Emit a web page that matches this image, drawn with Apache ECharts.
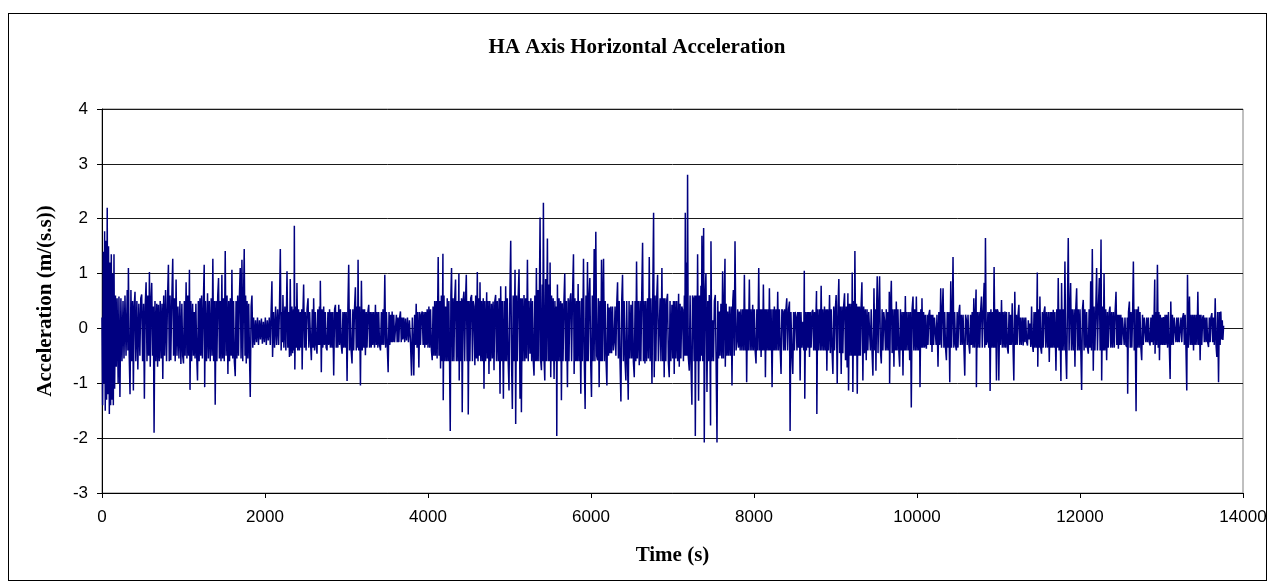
<!DOCTYPE html>
<html>

	<head>
		<meta charset="utf-8" />
		<script src="https://cdn.jsdelivr.net/npm/echarts@6/dist/echarts.min.js" type="text/javascript" charset="utf-8"></script>
		<style>
			html, body { margin: 0; padding: 0; background: #fff; }
			#frame { position: absolute; left: 8px; top: 13px; width: 1257px; height: 566px; border: 1px solid #000; }
			#chart { position: absolute; left: 0; top: 0; width: 1274px; height: 587px; }
		</style>
	</head>

	<body>
		<div id="frame"></div>
		<div id="chart"></div>
		<script>
			// [time (s), acceleration (m/(s.s))], split by time span
			var seg0to2300 = [
				[0,0.2],[8,-1.4],[16,1.4],[24,-1.0],[32,1.77],[40,-1.5],[48,1.6],[56,-1.3],[64,2.2],[72,-1.2],[80,1.5],[90,-1.56],[98,1.2],[106,-1.4],[114,1.35],[122,-1.3],[130,1.0],[139,-1.4],[147,1.35],[155,-1.1],
				[165,0.6],[175,-0.7],[185,0.55],[198,-1.0],[208,0.58],[220,-1.25],[232,0.55],[245,-0.6],[258,0.5],[270,-0.55],[282,0.6],[295,-0.5],[310,0.7],[318,-0.4],[324,1.1],[334,-0.5],[344,-1.2],[355,0.7],[366,-0.6],[376,0.5],
				[385,-1.13],[395,0.4],[405,0.67],[415,-0.6],[428,0.5],[440,-0.75],[452,0.45],[465,-0.5],[476,0.55],[487,0.62],[498,-0.6],[510,0.45],[520,-1.28],[530,0.4],[541,0.84],[552,-0.6],[562,0.6],[572,-0.5],[582,1.03],[592,-0.7],
				[601,0.5],[610,0.83],[620,-0.5],[630,0.4],[639,-1.9],[650,0.5],[661,-0.6],[672,0.45],[682,-0.7],[692,0.43],[703,-0.6],[714,0.5],[725,-0.55],[736,0.45],[746,-0.92],[757,0.6],[768,-0.5],[780,0.7],[792,-0.6],[804,0.55],
				[815,1.16],[825,-0.6],[835,0.6],[844,-0.58],[856,0.5],[868,1.27],[878,-0.5],[888,0.55],[898,-0.6],[909,0.89],[920,-0.5],[932,0.4],[944,-0.55],[956,0.5],[968,-0.65],[980,0.45],[990,-0.5],[1000,-0.64],[1010,0.5],[1020,-0.5],
				[1032,0.84],[1042,-0.55],[1052,0.6],[1062,-0.5],[1073,1.07],[1080,-1.12],[1090,0.5],[1100,-0.6],[1112,0.45],[1122,-0.5],[1132,0.3],[1142,-0.55],[1152,0.45],[1162,-0.5],[1172,-0.95],[1182,0.5],[1192,-0.6],[1202,0.55],[1212,-0.5],[1222,0.6],
				[1232,-0.55],[1244,0.5],[1254,1.16],[1260,-1.07],[1270,0.5],[1282,-0.6],[1295,0.64],[1305,-0.55],[1316,0.5],[1328,-0.6],[1340,0.55],[1350,-0.5],[1360,1.27],[1370,-0.6],[1380,0.5],[1389,-1.39],[1400,0.5],[1410,-0.6],[1420,0.6],[1430,0.92],
				[1440,-0.55],[1450,0.5],[1460,-0.6],[1471,0.98],[1480,-0.55],[1490,0.55],[1500,-0.6],[1512,1.41],[1522,-0.5],[1534,0.6],[1545,-0.83],[1555,0.5],[1565,-0.6],[1575,0.55],[1585,-0.5],[1594,1.07],[1604,-0.55],[1614,0.5],[1624,-0.6],[1635,-0.87],
				[1645,0.5],[1655,-0.55],[1665,0.6],[1675,-0.5],[1685,0.55],[1696,1.1],[1706,-0.55],[1717,1.25],[1727,-0.6],[1737,0.6],[1745,1.45],[1755,-0.5],[1762,0.6],[1770,-0.64],[1780,0.5],[1790,-0.55],[1800,0.45],[1810,-0.5],[1819,-1.25],[1830,0.4],
				[1840,0.6],[1850,-0.35],[1860,0.2],[1872,-0.3],[1884,0.15],[1896,-0.25],[1908,0.2],[1920,-0.3],[1932,0.15],[1944,-0.2],[1956,0.18],[1968,-0.28],[1980,0.12],[1992,-0.25],[2004,0.2],[2016,-0.3],[2028,0.15],[2040,-0.22],[2052,0.2],[2065,-0.3],
				[2075,0.3],[2085,0.86],[2093,-0.52],[2105,0.3],[2117,-0.35],[2130,0.4],[2142,-0.3],[2155,0.35],[2167,-0.3],[2178,0.4],[2188,1.45],[2198,-0.4],[2208,0.3],[2214,-0.25],[2220,0.61],[2232,-0.35],[2244,0.4],[2256,-0.4],[2270,1.04],[2280,-0.35],[2290,0.3]
			];
			var seg2300to4570 = [
				[2300,-0.52],[2310,0.9],[2320,-0.5],[2330,0.4],[2340,-0.45],[2350,0.35],[2356,-0.4],[2360,1.87],[2366,-0.75],[2376,0.4],[2384,-0.35],[2392,0.83],[2402,-0.4],[2412,0.35],[2422,-0.4],[2432,0.3],[2442,-0.35],[2450,0.35],[2456,-0.75],[2466,0.3],
				[2474,0.8],[2484,-0.35],[2494,0.3],[2504,-0.4],[2516,0.35],[2528,0.55],[2538,-0.35],[2548,0.3],[2560,-0.3],[2569,-0.58],[2580,0.35],[2590,-0.35],[2597,0.55],[2608,-0.4],[2618,0.3],[2628,-0.3],[2638,-0.46],[2648,0.35],[2658,-0.3],[2668,0.4],
				[2674,-0.3],[2679,0.87],[2691,-0.8],[2700,0.35],[2710,-0.35],[2720,0.4],[2730,-0.3],[2740,0.3],[2750,-0.35],[2761,-0.4],[2772,0.3],[2782,-0.3],[2792,0.35],[2802,-0.35],[2812,0.3],[2822,-0.35],[2832,0.3],[2843,-0.86],[2854,0.35],[2864,0.43],
				[2874,-0.35],[2884,0.3],[2894,-0.35],[2905,0.43],[2915,-0.3],[2925,0.35],[2935,-0.3],[2946,-0.46],[2956,0.3],[2966,-0.35],[2976,0.3],[2986,-0.35],[2996,0.3],[3007,-0.96],[3017,0.35],[3027,1.16],[3037,-0.4],[3047,0.35],[3057,-0.4],[3068,-0.64],
				[3078,0.35],[3088,-0.4],[3098,0.35],[3109,0.75],[3120,-0.4],[3130,0.4],[3136,-0.35],[3142,1.25],[3150,-0.4],[3160,0.4],[3171,-1.04],[3183,0.87],[3193,-0.4],[3203,0.35],[3213,-0.35],[3222,0.35],[3232,-0.49],[3242,0.3],[3252,-0.35],[3262,0.3],
				[3273,0.43],[3283,-0.35],[3293,0.3],[3303,-0.35],[3313,0.3],[3323,-0.3],[3333,0.3],[3344,-0.35],[3355,0.43],[3365,-0.3],[3375,0.3],[3385,-0.35],[3395,0.3],[3405,-0.3],[3417,-0.4],[3428,0.3],[3438,-0.3],[3448,0.35],[3458,-0.3],[3470,0.98],
				[3480,-0.35],[3490,0.3],[3500,-0.3],[3511,-0.8],[3522,0.3],[3532,-0.3],[3542,0.25],[3552,-0.25],[3560,0.31],[3570,-0.25],[3580,0.25],[3590,-0.25],[3601,-0.24],[3612,0.25],[3622,-0.25],[3632,0.2],[3642,-0.25],[3652,0.2],[3662,0.31],[3672,-0.25],
				[3682,0.2],[3692,-0.2],[3702,0.2],[3714,-0.25],[3724,0.18],[3736,-0.22],[3748,0.2],[3760,-0.25],[3772,0.15],[3784,-0.2],[3798,-0.86],[3808,0.2],[3818,-0.3],[3826,-0.86],[3836,0.25],[3846,-0.3],[3855,0.45],[3866,-0.35],[3876,0.3],[3888,-0.71],
				[3898,0.3],[3908,-0.3],[3918,0.25],[3929,0.31],[3940,-0.3],[3950,0.3],[3960,-0.35],[3970,0.3],[3980,-0.3],[3990,0.35],[4000,-0.35],[4011,0.4],[4021,-0.35],[4031,0.35],[4042,-0.4],[4052,-0.58],[4062,0.4],[4072,-0.5],[4082,0.5],[4092,-0.5],
				[4102,0.5],[4112,-0.55],[4125,1.3],[4135,-0.5],[4145,0.5],[4154,-0.73],[4164,0.6],[4174,-0.6],[4183,1.36],[4187,-1.31],[4196,0.6],[4206,-0.6],[4216,0.4],[4226,-0.6],[4236,0.55],[4246,-0.6],[4256,0.5],[4264,-0.55],[4273,-1.87],[4281,0.6],
				[4289,1.1],[4298,-0.6],[4308,0.55],[4318,-0.6],[4328,0.55],[4338,0.89],[4348,-0.6],[4358,0.5],[4368,-0.6],[4379,1.0],[4383,-0.95],[4393,0.5],[4403,-0.6],[4412,0.55],[4420,-1.53],[4430,0.5],[4441,0.67],[4450,-0.6],[4460,0.5],[4470,0.98],
				[4480,-0.6],[4488,0.5],[4494,-1.57],[4504,0.5],[4514,-0.6],[4524,0.55],[4535,0.61],[4545,-0.6],[4555,0.5],[4564,0.4]
			];
			var seg4570to6860 = [
				[4575,-0.67],[4585,0.6],[4595,-0.55],[4605,1.03],[4614,-0.6],[4624,0.55],[4632,-0.5],[4638,0.84],[4648,-0.6],[4658,0.5],[4668,-0.6],[4678,0.55],[4687,-1.1],[4697,0.5],[4707,-0.6],[4720,0.66],[4728,-0.55],[4738,0.5],[4748,-0.83],[4758,0.5],
				[4768,-0.6],[4779,0.45],[4789,-0.55],[4799,0.49],[4810,-0.76],[4820,0.5],[4830,0.61],[4840,-0.6],[4850,0.5],[4862,-0.6],[4872,0.55],[4884,-1.19],[4892,0.77],[4902,-0.6],[4912,0.5],[4925,-1.28],[4935,0.5],[4944,-0.6],[4953,0.77],[4963,-0.6],
				[4973,0.55],[4984,-0.6],[4994,-1.13],[5004,0.55],[5015,1.6],[5025,-0.6],[5035,-1.47],[5045,0.6],[5055,-0.6],[5068,1.07],[5076,-1.74],[5086,0.6],[5096,-0.6],[5106,0.55],[5117,1.08],[5129,-1.28],[5137,0.55],[5146,-1.53],[5156,0.55],[5166,-0.6],
				[5178,0.61],[5188,-0.6],[5198,0.55],[5208,-0.55],[5220,1.25],[5230,-0.6],[5240,0.5],[5252,-0.46],[5262,0.55],[5272,-0.6],[5282,0.5],[5292,-0.6],[5301,-0.86],[5311,0.6],[5321,-0.6],[5330,1.1],[5340,-0.6],[5350,0.7],[5360,-0.6],[5368,0.8],
				[5375,2.02],[5384,-0.6],[5392,-0.76],[5402,0.8],[5408,-0.6],[5416,2.29],[5425,-0.6],[5433,-0.95],[5443,0.9],[5452,-0.6],[5465,1.64],[5475,-0.6],[5485,0.8],[5492,-0.6],[5498,1.2],[5506,-0.89],[5516,0.6],[5526,-0.6],[5536,0.55],[5547,-0.92],
				[5557,0.5],[5568,-0.6],[5575,0.4],[5580,-1.96],[5588,0.8],[5598,-0.6],[5608,0.55],[5618,-0.6],[5628,0.5],[5637,-1.31],[5647,0.46],[5657,-0.6],[5668,0.5],[5678,1.0],[5688,-0.6],[5698,0.5],[5711,-1.07],[5720,0.55],[5730,-0.6],[5740,0.5],
				[5752,0.64],[5762,-0.6],[5772,0.5],[5785,1.35],[5793,-0.83],[5803,0.55],[5813,-0.6],[5823,0.5],[5832,-0.6],[5842,0.81],[5852,-0.6],[5862,0.5],[5875,-1.19],[5885,0.55],[5895,-0.6],[5908,1.27],[5918,-0.6],[5928,-1.47],[5938,0.6],[5948,-0.6],
				[5957,1.21],[5966,-0.6],[5976,0.55],[5986,0.92],[5996,-0.6],[6006,-1.25],[6016,0.6],[6026,-0.6],[6039,1.45],[6048,-0.6],[6059,1.76],[6070,-0.5],[6080,-0.58],[6090,0.55],[6100,-1.07],[6110,0.5],[6120,-0.6],[6129,1.25],[6138,-0.6],[6146,0.5],
				[6154,1.27],[6164,-0.6],[6174,0.5],[6185,-0.6],[6195,-1.04],[6205,0.45],[6215,-0.5],[6223,0.38],[6233,-0.45],[6243,0.4],[6253,-0.45],[6264,0.4],[6275,-0.4],[6285,-0.24],[6295,0.4],[6305,-0.5],[6316,0.45],[6326,0.84],[6336,-0.55],[6346,0.5],
				[6356,-0.6],[6367,-1.33],[6377,0.5],[6387,0.98],[6397,-0.6],[6407,0.5],[6418,-0.6],[6428,-0.95],[6438,0.5],[6448,-0.6],[6457,-1.3],[6467,0.5],[6478,-0.55],[6490,0.43],[6500,-0.55],[6510,0.5],[6520,-0.6],[6531,-0.89],[6541,0.5],[6550,-0.6],
				[6559,1.22],[6569,-0.55],[6580,0.5],[6592,-0.67],[6602,0.5],[6612,-0.6],[6622,0.55],[6633,1.56],[6643,-0.6],[6652,0.5],[6662,-0.64],[6672,0.5],[6682,-0.6],[6694,0.55],[6704,-0.55],[6715,1.3],[6725,-0.6],[6735,0.55],[6748,-1.01],[6758,0.6],
				[6768,2.11],[6776,-0.89],[6786,0.6],[6796,-0.6],[6806,0.55],[6817,0.98],[6827,-0.6],[6838,-0.58],[6848,0.55],[6858,-0.6]
			];
			var seg6860to9130 = [
				[6870,1.1],[6880,-0.6],[6890,0.55],[6898,-0.89],[6908,0.55],[6918,-0.6],[6928,0.5],[6939,0.63],[6949,-0.6],[6960,-0.89],[6970,0.5],[6980,-0.6],[6993,0.43],[7003,-0.55],[7012,0.5],[7021,-0.83],[7031,0.5],[7041,-0.55],[7052,0.5],[7063,-0.6],
				[7075,0.63],[7083,-0.7],[7093,0.45],[7103,-0.55],[7114,0.4],[7124,0.34],[7134,-0.6],[7146,0.6],[7152,-0.5],[7157,2.11],[7165,-0.5],[7172,1.2],[7179,-0.5],[7185,2.8],[7193,-0.5],[7206,-0.77],[7216,0.6],[7226,-0.6],[7238,-1.39],[7246,0.6],
				[7255,0.55],[7265,-0.6],[7274,0.6],[7280,-1.96],[7290,0.6],[7300,-0.6],[7308,1.35],[7320,-1.32],[7330,0.6],[7340,-0.6],[7349,0.78],[7355,-0.5],[7361,1.69],[7370,-0.6],[7376,0.6],[7382,1.83],[7390,-2.08],[7400,0.6],[7410,1.01],[7423,-1.16],
				[7433,0.5],[7442,-0.6],[7451,0.61],[7461,-0.6],[7467,-1.77],[7472,1.59],[7482,-0.6],[7493,0.15],[7503,-0.6],[7514,0.5],[7525,0.61],[7535,-0.6],[7546,-2.08],[7556,0.5],[7565,-0.55],[7574,0.31],[7584,-0.5],[7594,0.45],[7605,-0.55],[7615,1.04],
				[7625,-0.55],[7635,0.5],[7644,1.27],[7648,-0.7],[7658,0.45],[7668,-0.5],[7677,0.31],[7688,-0.5],[7698,0.4],[7709,-0.5],[7720,0.4],[7730,-1.04],[7740,0.5],[7747,0.7],[7757,-0.5],[7767,1.59],[7780,-0.4],[7792,-0.21],[7800,0.35],[7810,-0.35],
				[7820,0.31],[7830,-0.4],[7840,0.35],[7851,-0.4],[7862,0.35],[7872,-0.4],[7882,0.98],[7892,-0.4],[7902,0.35],[7910,-0.98],[7920,0.35],[7931,-0.4],[7943,0.89],[7953,-0.4],[7963,0.35],[7974,-0.4],[7984,0.43],[7994,-0.4],[8004,0.35],[8014,-0.4],
				[8025,-0.64],[8035,0.35],[8046,-0.4],[8058,1.1],[8068,-0.4],[8078,0.35],[8087,-0.52],[8097,0.35],[8106,-0.4],[8115,0.8],[8125,-0.4],[8133,0.35],[8140,-0.89],[8150,0.35],[8160,-0.4],[8170,0.35],[8180,-0.4],[8189,0.73],[8199,-0.4],[8210,0.35],
				[8222,-1.07],[8232,0.35],[8241,-0.4],[8250,0.4],[8260,-0.4],[8270,0.35],[8280,-0.4],[8291,0.67],[8301,-0.4],[8311,0.35],[8322,-0.4],[8332,-0.83],[8342,0.35],[8353,0.31],[8363,-0.4],[8373,0.35],[8383,-0.4],[8392,0.35],[8402,0.55],[8412,-0.4],
				[8424,0.35],[8435,0.49],[8443,-1.87],[8453,0.3],[8464,-0.4],[8476,-0.83],[8486,0.3],[8496,-0.4],[8506,0.3],[8517,0.21],[8527,-0.4],[8537,0.3],[8547,-0.35],[8556,0.3],[8566,-0.95],[8576,0.3],[8588,-0.35],[8599,0.12],[8610,-0.4],[8617,1.05],
				[8623,-1.28],[8633,0.3],[8643,-0.4],[8653,0.3],[8663,-0.35],[8672,0.3],[8681,-0.52],[8691,0.3],[8701,-0.35],[8712,0.3],[8722,0.34],[8732,-0.4],[8742,0.3],[8752,-0.4],[8762,0.35],[8767,0.68],[8771,-1.56],[8781,0.35],[8791,-0.4],[8803,0.35],
				[8814,-0.4],[8824,0.78],[8834,-0.4],[8844,0.35],[8855,-0.4],[8865,0.4],[8875,-0.4],[8885,0.35],[8894,-0.77],[8904,0.35],[8914,-0.4],[8927,0.61],[8937,-0.45],[8947,0.35],[8958,-0.4],[8968,-0.83],[8978,0.4],[8988,-0.4],[8998,0.35],[9008,0.61],
				[9021,-1.01],[9031,0.4],[9041,0.9],[9051,-0.45],[9060,0.4],[9070,-0.83],[9080,0.4],[9090,-0.45],[9100,0.4],[9111,0.64],[9123,-0.58]
			];
			var seg9130to11400 = [
				[9133,0.4],[9143,-0.71],[9152,0.64],[9160,-1.13],[9170,0.45],[9180,-0.5],[9190,0.45],[9200,-0.5],[9205,1.02],[9213,-1.16],[9222,0.5],[9230,-0.5],[9238,1.41],[9248,-0.5],[9257,0.45],[9267,-1.19],[9276,0.4],[9286,-0.5],[9295,0.4],[9305,-0.5],
				[9315,0.45],[9324,0.84],[9336,-0.95],[9346,0.4],[9356,-0.45],[9366,0.35],[9377,-0.58],[9387,0.35],[9397,-0.4],[9408,0.3],[9418,0.28],[9428,-0.4],[9438,0.35],[9448,-0.4],[9459,-0.86],[9472,0.73],[9482,-0.4],[9490,0.35],[9496,-0.77],[9505,0.4],
				[9512,0.95],[9522,-0.45],[9532,0.4],[9541,0.95],[9551,-0.4],[9562,-0.64],[9572,0.35],[9582,-0.4],[9592,0.3],[9603,0.12],[9613,-0.4],[9623,0.35],[9633,-0.4],[9643,0.3],[9653,-0.4],[9660,0.67],[9664,-1.01],[9675,0.4],[9685,0.87],[9695,-0.45],
				[9706,0.35],[9717,-0.7],[9727,0.35],[9737,-0.4],[9746,0.49],[9756,-0.4],[9766,0.35],[9777,-0.4],[9787,-0.7],[9797,0.35],[9808,-0.4],[9818,0.3],[9828,-0.86],[9838,0.3],[9848,-0.4],[9857,0.59],[9867,-0.4],[9878,0.3],[9889,-0.4],[9900,0.3],
				[9910,-0.58],[9920,0.3],[9930,-1.44],[9940,0.35],[9951,0.58],[9961,-0.4],[9971,0.35],[9982,-0.4],[9992,0.58],[10002,-0.4],[10012,0.3],[10022,-0.4],[10030,0.3],[10037,-1.07],[10047,0.35],[10055,-0.35],[10061,0.55],[10071,-0.35],[10081,0.3],[10091,-0.35],
				[10101,0.25],[10108,-0.3],[10115,-0.37],[10125,0.25],[10135,-0.3],[10145,0.25],[10156,0.34],[10166,-0.3],[10175,0.25],[10184,-0.43],[10194,0.25],[10204,-0.3],[10214,0.2],[10225,0.21],[10235,-0.3],[10245,0.25],[10258,-0.7],[10268,0.3],[10280,-0.3],[10291,0.73],
				[10301,-0.35],[10310,0.3],[10320,0.73],[10330,-0.35],[10340,0.3],[10350,-0.35],[10361,-0.58],[10371,0.3],[10381,-0.35],[10391,0.3],[10402,-0.98],[10414,0.86],[10424,-0.35],[10434,0.3],[10442,1.3],[10452,-0.35],[10462,0.3],[10472,-0.3],[10483,-0.4],[10493,0.3],
				[10503,-0.35],[10514,0.3],[10524,0.43],[10534,-0.3],[10544,0.25],[10555,-0.3],[10565,0.25],[10575,-0.3],[10586,-0.86],[10596,0.25],[10606,0.15],[10616,-0.3],[10626,0.25],[10637,-0.3],[10647,-0.46],[10657,0.25],[10667,-0.3],[10677,0.3],[10687,-0.35],[10697,0.55],
				[10707,-0.35],[10717,0.3],[10725,0.71],[10729,-1.07],[10739,0.3],[10749,-0.35],[10760,0.3],[10770,-0.35],[10780,0.3],[10791,0.58],[10801,-0.35],[10812,0.3],[10824,0.83],[10832,-0.35],[10840,1.65],[10850,-0.3],[10860,-0.24],[10870,0.3],[10880,-0.35],[10890,0.3],
				[10897,-1.14],[10907,0.35],[10917,-0.35],[10927,0.3],[10937,-0.35],[10946,1.12],[10956,-0.35],[10966,0.35],[10975,-0.95],[10985,0.35],[10995,0.3],[11004,-0.95],[11014,0.3],[11025,-0.3],[11037,0.52],[11047,-0.35],[11057,0.3],[11068,-0.35],[11078,0.31],[11088,-0.35],
				[11098,0.3],[11109,-0.35],[11119,-0.46],[11129,0.3],[11139,-0.3],[11149,0.25],[11158,-0.3],[11168,0.46],[11178,-0.3],[11188,-0.95],[11200,0.67],[11210,-0.3],[11220,0.25],[11230,-0.3],[11240,0.25],[11250,0.43],[11260,-0.3],[11270,0.2],[11281,-0.3],[11292,0.2],
				[11303,-0.31],[11313,0.2],[11324,-0.25],[11334,0.2],[11345,-0.25],[11356,-0.31],[11366,0.15],[11376,-0.2],[11385,0.09]
			];
			var seg11400to13770 = [
				[11396,-0.34],[11406,0.4],[11416,-0.3],[11426,-0.43],[11436,0.3],[11446,-0.35],[11456,0.3],[11466,-0.35],[11476,1.02],[11482,-0.7],[11492,0.35],[11500,-0.35],[11508,0.58],[11518,-0.35],[11528,-0.46],[11538,0.3],[11548,-0.35],[11558,0.3],[11569,0.4],[11579,-0.35],
				[11590,0.3],[11601,-0.35],[11612,0.3],[11623,-0.61],[11633,0.3],[11643,-0.35],[11652,0.3],[11662,-0.35],[11672,0.34],[11682,-0.35],[11692,0.3],[11705,-0.77],[11715,0.35],[11724,-0.35],[11733,0.92],[11743,-0.4],[11753,0.35],[11766,-0.96],[11774,0.83],[11784,-0.4],
				[11794,0.35],[11805,-0.4],[11815,1.22],[11825,-0.4],[11836,-0.92],[11846,0.4],[11856,1.65],[11866,-0.4],[11876,0.35],[11885,0.83],[11895,-0.4],[11906,0.35],[11917,-0.4],[11928,0.35],[11938,-0.7],[11948,0.35],[11959,0.73],[11969,-0.4],[11979,0.35],[11990,-0.4],
				[12000,0.35],[12010,-0.4],[12020,-1.12],[12030,0.35],[12040,0.52],[12050,-0.4],[12060,0.35],[12071,-0.35],[12081,0.3],[12091,-0.35],[12102,-0.46],[12112,0.35],[12122,-0.35],[12131,0.86],[12141,-0.4],[12151,1.45],[12163,-0.77],[12173,0.4],[12183,-0.4],[12194,0.35],
				[12204,1.1],[12214,-0.4],[12225,0.35],[12237,0.92],[12247,-0.4],[12258,1.62],[12266,-0.95],[12276,0.4],[12286,-0.4],[12295,1.01],[12305,-0.4],[12316,0.35],[12327,-0.58],[12337,0.3],[12347,-0.35],[12358,0.3],[12368,0.4],[12378,-0.35],[12389,0.3],[12399,-0.35],
				[12410,0.3],[12421,-0.35],[12431,0.3],[12442,0.67],[12452,-0.3],[12462,0.25],[12471,-0.37],[12481,0.25],[12491,-0.3],[12501,0.25],[12511,-0.3],[12521,0.2],[12532,0.21],[12542,-0.3],[12552,0.2],[12563,-0.3],[12573,-0.34],[12580,0.2],[12585,-1.19],[12595,0.3],
				[12606,0.49],[12616,-0.35],[12626,0.3],[12636,-0.35],[12646,0.3],[12655,1.22],[12665,-0.4],[12675,0.35],[12688,-1.51],[12697,0.35],[12706,-0.35],[12716,0.4],[12726,-0.35],[12736,0.3],[12747,-0.35],[12757,-0.58],[12767,0.25],[12777,-0.3],[12788,0.2],[12798,0.21],
				[12808,-0.25],[12818,0.2],[12829,-0.25],[12839,0.2],[12850,-0.25],[12860,-0.31],[12870,0.2],[12880,-0.25],[12890,0.25],[12900,-0.3],[12910,0.3],[12917,0.89],[12921,-0.46],[12931,0.3],[12940,-0.3],[12950,1.16],[12960,-0.35],[12968,0.3],[12975,-0.58],[12985,0.25],
				[12995,-0.3],[13005,0.2],[13014,-0.3],[13024,0.21],[13034,-0.3],[13044,0.25],[13054,-0.3],[13064,0.25],[13075,-0.35],[13085,0.3],[13096,-0.35],[13106,-0.92],[13114,0.49],[13124,-0.3],[13134,0.25],[13145,-0.3],[13156,0.2],[13167,0.18],[13177,-0.25],[13187,0.2],
				[13198,-0.25],[13208,0.2],[13218,-0.25],[13229,-0.28],[13239,0.2],[13249,-0.25],[13260,0.2],[13270,0.28],[13280,-0.3],[13290,0.25],[13300,-0.35],[13310,-1.13],[13319,0.98],[13329,-0.35],[13338,0.3],[13343,0.58],[13353,-0.3],[13363,0.25],[13373,-0.3],[13383,0.25],
				[13393,-0.4],[13403,0.25],[13414,-0.3],[13424,0.25],[13435,-0.3],[13446,0.67],[13456,-0.3],[13465,0.25],[13474,-0.58],[13484,0.25],[13494,-0.3],[13505,0.2],[13515,0.24],[13525,-0.25],[13535,0.2],[13546,-0.25],[13556,0.2],[13566,-0.25],[13577,-0.34],[13587,0.2],
				[13597,-0.25],[13607,0.2],[13618,0.28],[13628,-0.25],[13638,0.2],[13648,-0.3],[13659,0.55],[13669,-0.3],[13679,-0.52],[13689,0.3],[13700,-0.98],[13710,0.3],[13719,-0.3],[13728,0.31],[13738,-0.2],[13746,0.15],[13753,-0.21],[13762,0.05]
			];

			var xTicks = [0, 2000, 4000, 6000, 8000, 10000, 12000, 14000];
			var yTicks = [-3, -2, -1, 0, 1, 2, 3, 4];

			var samples = [].concat(seg0to2300, seg2300to4570, seg4570to6860, seg6860to9130, seg9130to11400, seg11400to13770);

			var Chart = echarts.init(document.getElementById('chart'));

			var serif = "'Liberation Serif', 'Times New Roman', serif";
			var sans = "'Liberation Sans', Arial, sans-serif";

			option = {
				animation: false,
				title: {
					text: 'HA Axis Horizontal Acceleration',
					left: 'center',
					top: 32,
					textStyle: { fontFamily: serif, fontWeight: 'bold', fontSize: 21, color: '#000' }
				},
				grid: { left: 102, right: 31, top: 109, bottom: 94, show: true, borderColor: '#808080', borderWidth: 1 },
				xAxis: {
					type: 'value',
					min: xTicks[0],
					max: xTicks[xTicks.length - 1],
					interval: 2000,
					name: 'Time (s)',
					nameLocation: 'middle',
					nameGap: 52,
					nameTextStyle: { fontFamily: serif, fontWeight: 'bold', fontSize: 21, color: '#000' },
					axisLine: { onZero: false, lineStyle: { color: '#000', width: 1 } },
					axisTick: { length: 5, lineStyle: { color: '#000' } },
					axisLabel: {
						fontFamily: sans, fontSize: 17, color: '#000', margin: 16,
						formatter: function(v) { return String(v); }
					},
					splitLine: { show: false }
				},
				yAxis: {
					type: 'value',
					min: yTicks[0],
					max: yTicks[yTicks.length - 1],
					interval: 1,
					name: 'Acceleration (m/(s.s))',
					nameLocation: 'middle',
					nameGap: 46,
					nameTextStyle: { fontFamily: serif, fontWeight: 'bold', fontSize: 21, color: '#000' },
					axisLine: { show: true, onZero: false, lineStyle: { color: '#000', width: 1 } },
					axisTick: { show: true, length: 5, lineStyle: { color: '#000' } },
					axisLabel: { fontFamily: sans, fontSize: 17, color: '#000', margin: 14 },
					splitLine: { show: true, lineStyle: { color: '#1a1a1a', width: 1 } }
				},
				series: [{
					type: 'line',
					data: samples,
					showSymbol: false,
					symbol: 'none',
					sampling: false,
					lineStyle: { color: '#000080', width: 1.5 }
				}]
			};

			Chart.setOption(option);
		</script>
	</body>

</html>
